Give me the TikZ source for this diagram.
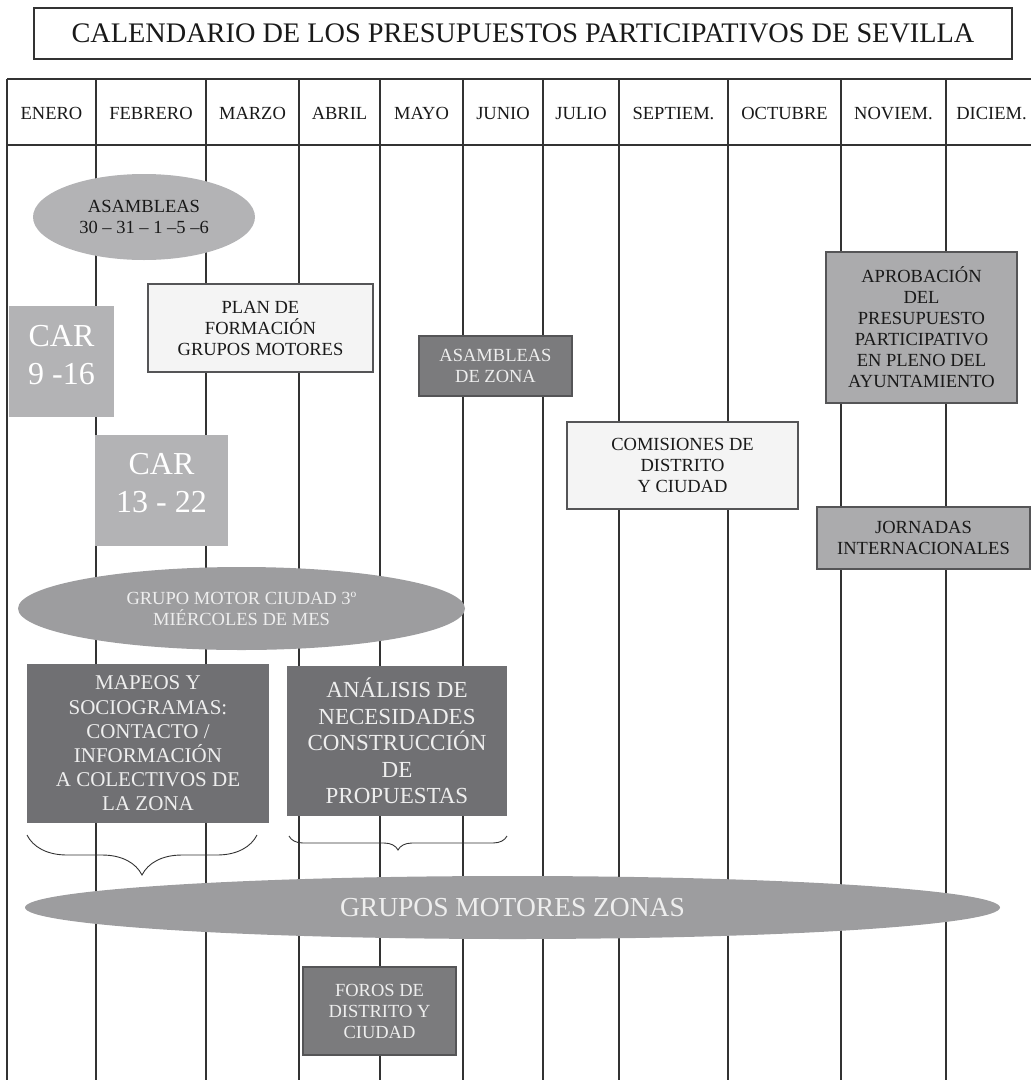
\documentclass[tikz,border=0pt]{standalone}
\usepackage{fontspec}
\setmainfont{Liberation Serif}
\usetikzlibrary{shapes.geometric,decorations.pathreplacing}

\begin{document}
\begin{tikzpicture}[x=1pt,y=-1pt]
  % Key Colors
  \definecolor{gridcolor}  {HTML}{333333}
  \definecolor{framecolor} {HTML}{555557}
  \definecolor{palefill}   {HTML}{F4F4F4}
  \definecolor{carfill}    {HTML}{B3B3B5}
  \definecolor{midfill}    {HTML}{ABABAD}
  \definecolor{ovalfill}   {HTML}{9D9D9F}
  \definecolor{darkfill}   {HTML}{7B7B7D}
  \definecolor{deepfill}   {HTML}{707073}
  \definecolor{lighttext}  {HTML}{EEEEEE}

  \useasboundingbox (0,0) rectangle (1031,1080);

  % Styles
  \tikzstyle{grid line}=[gridcolor,line width=1.1pt]
  \tikzstyle{month}=[font=\fontsize{18.5}{21}\selectfont,text=black!90,text height=12.5pt,text depth=0pt]
  \tikzstyle{base}=[inner sep=0pt,outer sep=0pt,align=center,font=\fontsize{18.5}{21}\selectfont]
  \tikzstyle{pale box}=[base,draw=framecolor,line width=1.2pt,fill=palefill,text=black!90]
  \tikzstyle{mid box}=[base,draw=framecolor,line width=1.2pt,fill=midfill,text=black!90]
  \tikzstyle{dark box}=[base,draw=framecolor,line width=1.2pt,fill=darkfill,text=lighttext]
  \tikzstyle{deep box}=[base,fill=deepfill,text=lighttext]
  \tikzstyle{car box}=[base,fill=carfill,text=white,font=\fontsize{32}{38}\selectfont]
  \tikzstyle{oval}=[base,ellipse]
  \tikzstyle{brace line}=[gridcolor,line width=0.9pt,decorate]

  % The grid
  \draw[grid line] (7,79)  -- (1031,79);
  \draw[grid line] (7,145) -- (1031,145);
  \foreach \xx in {7,96,206,299,380,463,543,619,728,841,946}
    \draw[grid line] (\xx,79) -- (\xx,1080);

  % Months
  \foreach \xx/\mname [count=\i] in {51.5/ENERO,151/FEBRERO,252.5/MARZO,339.5/ABRIL,
      421.5/MAYO,503/JUNIO,581/JULIO,673.5/SEPTIEM.,784.5/OCTUBRE,893.5/NOVIEM.,991.5/DICIEM.}
    \node[month] (month\i) at (\xx,113) {\mname};

  % Title
  \node[base,draw=gridcolor,line width=1.2pt,minimum width=978pt,minimum height=51pt,
        font=\fontsize{28.3}{33}\selectfont,text=black!90] (title) at (523,33.5)
    {CALENDARIO DE LOS PRESUPUESTOS PARTICIPATIVOS DE SEVILLA};

  % Activities
  \node[oval,fill=carfill,text=black!90,minimum width=222pt,minimum height=86pt] (asambleas) at (144,217)
    {ASAMBLEAS\\30 – 31 – 1 –5 –6};
  \node[car box,minimum width=105pt,minimum height=111pt,text depth=14pt] (car1) at (61.5,361.5) {CAR\\9 -16};
  \node[pale box,minimum width=225pt,minimum height=88pt] (plan) at (260.5,328)
    {PLAN DE\\FORMACIÓN\\GRUPOS MOTORES};
  \node[dark box,minimum width=153pt,minimum height=60pt] (zona) at (495.5,366)
    {ASAMBLEAS\\DE ZONA};
  \node[car box,minimum width=133pt,minimum height=111pt,text depth=16pt] (car2) at (161.5,490.5) {CAR\\13 - 22};
  \node[pale box,minimum width=231pt,minimum height=87pt] (comisiones) at (682.5,465.5)
    {COMISIONES DE\\DISTRITO\\Y CIUDAD};
  \node[mid box,minimum width=191pt,minimum height=151pt] (aprobacion) at (921.5,327.5)
    {APROBACIÓN\\DEL\\PRESUPUESTO\\PARTICIPATIVO\\EN PLENO DEL\\AYUNTAMIENTO};
  \node[mid box,minimum width=213pt,minimum height=62pt] (jornadas) at (923.5,538)
    {JORNADAS\\INTERNACIONALES};
  \node[oval,fill=ovalfill,text=lighttext,minimum width=447pt,minimum height=83pt] (ciudad) at (241.5,608.5)
    {GRUPO MOTOR CIUDAD 3º\\MIÉRCOLES DE MES};
  \node[deep box,minimum width=242pt,minimum height=159pt,font=\fontsize{21}{24.2}\selectfont] (mapeos) at (148,743.5)
    {MAPEOS Y\\SOCIOGRAMAS:\\CONTACTO /\\INFORMACIÓN\\A COLECTIVOS DE\\LA ZONA};
  \node[deep box,minimum width=220pt,minimum height=150pt,font=\fontsize{23}{26.5}\selectfont] (analisis) at (397,741)
    {ANÁLISIS DE\\NECESIDADES\\CONSTRUCCIÓN\\DE\\PROPUESTAS};
  \node[oval,fill=ovalfill,text=lighttext,minimum width=975pt,minimum height=63pt,
        font=\fontsize{27.5}{32}\selectfont] (zonas) at (512.5,907.5) {GRUPOS MOTORES ZONAS};
  \node[dark box,minimum width=153pt,minimum height=88pt] (foros) at (379.5,1011)
    {FOROS DE\\DISTRITO Y\\CIUDAD};

  % Braces
  \coordinate (braceA1) at (257,835);
  \coordinate (braceA2) at (27,835);
  \coordinate (braceB1) at (507,836);
  \coordinate (braceB2) at (289,836);
  \draw[brace line,decoration={brace,amplitude=40pt}] (braceA1) -- (braceA2);
  \draw[brace line,decoration={brace,amplitude=14pt}] (braceB1) -- (braceB2);

\end{tikzpicture}
\end{document}
